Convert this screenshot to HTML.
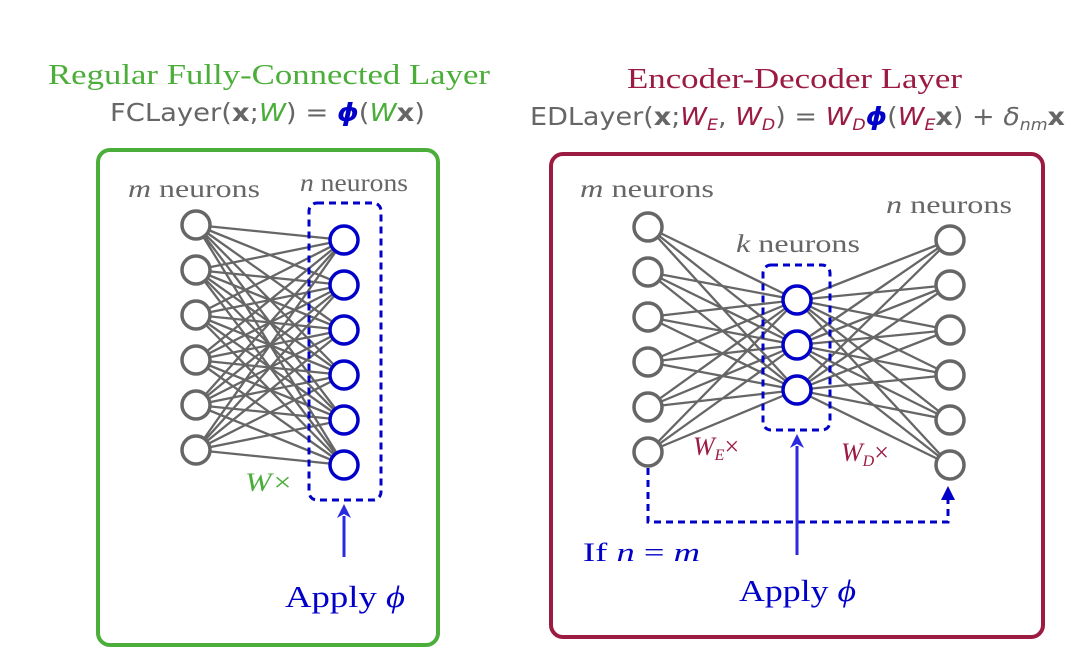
<!DOCTYPE html>
<html><head><meta charset="utf-8"><style>
body{margin:0;background:#fff}
svg{display:block}
.ser{font-family:"Liberation Serif",serif}
.san{font-family:"DejaVu Sans","Liberation Sans",sans-serif}
</style></head><body>
<svg width="1090" height="664" viewBox="0 0 1090 664" xmlns="http://www.w3.org/2000/svg">
<!-- titles -->
<text x="48" y="84" class="ser" font-size="29" fill="#4cae3a" textLength="442" lengthAdjust="spacingAndGlyphs">Regular Fully-Connected Layer</text>
<text x="110" y="121" class="san" font-size="25" fill="#666" textLength="315" lengthAdjust="spacingAndGlyphs">FCLayer(<tspan font-weight="bold">x</tspan>;<tspan fill="#4cae3a" font-style="italic">W</tspan>) = <tspan fill="#0000c8" font-style="italic" font-weight="bold">ϕ</tspan>(<tspan fill="#4cae3a" font-style="italic">W</tspan><tspan font-weight="bold">x</tspan>)</text>
<text x="627" y="88" class="ser" font-size="29" fill="#9b1b42" textLength="335" lengthAdjust="spacingAndGlyphs">Encoder-Decoder Layer</text>
<text x="530" y="125" class="san" font-size="25" fill="#666" textLength="535" lengthAdjust="spacingAndGlyphs">EDLayer(<tspan font-weight="bold">x</tspan>;<tspan fill="#9b1b42" font-style="italic">W<tspan font-size="16" dy="5">E</tspan></tspan><tspan dy="-5">, </tspan><tspan fill="#9b1b42" font-style="italic">W<tspan font-size="16" dy="5">D</tspan></tspan><tspan dy="-5">) = </tspan><tspan fill="#9b1b42" font-style="italic">W<tspan font-size="16" dy="5">D</tspan></tspan><tspan dy="-5" fill="#0000c8" font-style="italic" font-weight="bold">ϕ</tspan>(<tspan fill="#9b1b42" font-style="italic">W<tspan font-size="16" dy="5">E</tspan></tspan><tspan dy="-5" font-weight="bold">x</tspan>) + <tspan font-style="italic">δ<tspan font-size="16" dy="5">nm</tspan></tspan><tspan dy="-5" font-weight="bold">x</tspan></text>
<!-- boxes -->
<rect x="98" y="150" width="340" height="495" rx="12" fill="none" stroke="#4cae3a" stroke-width="4"/>
<rect x="551" y="154" width="492" height="483" rx="12" fill="none" stroke="#9b1b42" stroke-width="4"/>
<g stroke="#666" stroke-width="2.3">
<path d="
M196,225L344,240M196,225L344,285M196,225L344,330M196,225L344,375M196,225L344,420M196,225L344,465
M196,270L344,240M196,270L344,285M196,270L344,330M196,270L344,375M196,270L344,420M196,270L344,465
M196,315L344,240M196,315L344,285M196,315L344,330M196,315L344,375M196,315L344,420M196,315L344,465
M196,360L344,240M196,360L344,285M196,360L344,330M196,360L344,375M196,360L344,420M196,360L344,465
M196,405L344,240M196,405L344,285M196,405L344,330M196,405L344,375M196,405L344,420M196,405L344,465
M196,450L344,240M196,450L344,285M196,450L344,330M196,450L344,375M196,450L344,420M196,450L344,465"/>
<path d="
M648,227L797,300M648,227L797,345M648,227L797,390
M648,272L797,300M648,272L797,345M648,272L797,390
M648,317L797,300M648,317L797,345M648,317L797,390
M648,362L797,300M648,362L797,345M648,362L797,390
M648,407L797,300M648,407L797,345M648,407L797,390
M648,452L797,300M648,452L797,345M648,452L797,390
M797,300L950,240M797,300L950,285M797,300L950,330M797,300L950,375M797,300L950,420M797,300L950,465
M797,345L950,240M797,345L950,285M797,345L950,330M797,345L950,375M797,345L950,420M797,345L950,465
M797,390L950,240M797,390L950,285M797,390L950,330M797,390L950,375M797,390L950,420M797,390L950,465"/>
</g>
<g fill="#fff" stroke="#666" stroke-width="3.5">
<circle cx="196" cy="225" r="14"/><circle cx="196" cy="270" r="14"/><circle cx="196" cy="315" r="14"/>
<circle cx="196" cy="360" r="14"/><circle cx="196" cy="405" r="14"/><circle cx="196" cy="450" r="14"/>
<circle cx="648" cy="227" r="14"/><circle cx="648" cy="272" r="14"/><circle cx="648" cy="317" r="14"/>
<circle cx="648" cy="362" r="14"/><circle cx="648" cy="407" r="14"/><circle cx="648" cy="452" r="14"/>
<circle cx="950" cy="240" r="14"/><circle cx="950" cy="285" r="14"/><circle cx="950" cy="330" r="14"/>
<circle cx="950" cy="375" r="14"/><circle cx="950" cy="420" r="14"/><circle cx="950" cy="465" r="14"/>
</g>
<g fill="#fff" stroke="#0000c8" stroke-width="3.5">
<circle cx="344" cy="240" r="14"/><circle cx="344" cy="285" r="14"/><circle cx="344" cy="330" r="14"/>
<circle cx="344" cy="375" r="14"/><circle cx="344" cy="420" r="14"/><circle cx="344" cy="465" r="14"/>
<circle cx="797" cy="300" r="14"/><circle cx="797" cy="345" r="14"/><circle cx="797" cy="390" r="14"/>
</g>
<rect x="309" y="203" width="72" height="297" rx="8" fill="none" stroke="#0000c8" stroke-width="3" stroke-dasharray="7,5"/>
<rect x="763" y="265" width="67" height="165" rx="8" fill="none" stroke="#0000c8" stroke-width="3" stroke-dasharray="7,5"/>
<path d="M648,468 V522 H948 V492" fill="none" stroke="#0000c8" stroke-width="3" stroke-dasharray="7,5"/>
<path d="M941,500 L948,486 L955,500 Z" fill="#0000c8"/>
<line x1="344" y1="557" x2="344" y2="516" stroke="#2a2ae0" stroke-width="3"/>
<path d="M337,518 L344,504 L351,518 L344,514 Z" fill="#2a2ae0"/>
<line x1="797" y1="555" x2="797" y2="446" stroke="#2a2ae0" stroke-width="3"/>
<path d="M790,448 L797,434 L804,448 L797,444 Z" fill="#2a2ae0"/>
<g class="ser" font-size="25" fill="#666" lengthAdjust="spacingAndGlyphs">
<text x="128" y="197" textLength="132" lengthAdjust="spacingAndGlyphs"><tspan font-style="italic">m</tspan> neurons</text>
<text x="300" y="191" textLength="108" lengthAdjust="spacingAndGlyphs"><tspan font-style="italic">n</tspan> neurons</text>
<text x="580" y="197" textLength="134" lengthAdjust="spacingAndGlyphs"><tspan font-style="italic">m</tspan> neurons</text>
<text x="736" y="252" textLength="124" lengthAdjust="spacingAndGlyphs"><tspan font-style="italic">k</tspan> neurons</text>
<text x="886" y="213" textLength="126" lengthAdjust="spacingAndGlyphs"><tspan font-style="italic">n</tspan> neurons</text>
</g>
<text x="245" y="491" class="ser" font-size="26" fill="#4cae3a" font-style="italic" textLength="48" lengthAdjust="spacingAndGlyphs">W×</text>
<text x="693" y="455" class="ser" font-size="26" fill="#9b1b42"><tspan font-style="italic">W<tspan font-size="16" dy="5">E</tspan></tspan><tspan dy="-5">×</tspan></text>
<text x="841" y="461" class="ser" font-size="26" fill="#9b1b42"><tspan font-style="italic">W<tspan font-size="16" dy="5">D</tspan></tspan><tspan dy="-5">×</tspan></text>
<text x="285" y="607" class="ser" font-size="31" fill="#0000c8" textLength="120" lengthAdjust="spacingAndGlyphs">Apply <tspan font-style="italic">ϕ</tspan></text>
<text x="739" y="601" class="ser" font-size="31" fill="#0000c8" textLength="117" lengthAdjust="spacingAndGlyphs">Apply <tspan font-style="italic">ϕ</tspan></text>
<text x="583" y="561" class="ser" font-size="26" fill="#0000c8" textLength="117" lengthAdjust="spacingAndGlyphs">If <tspan font-style="italic">n</tspan> = <tspan font-style="italic">m</tspan></text>
</svg>
</body></html>
